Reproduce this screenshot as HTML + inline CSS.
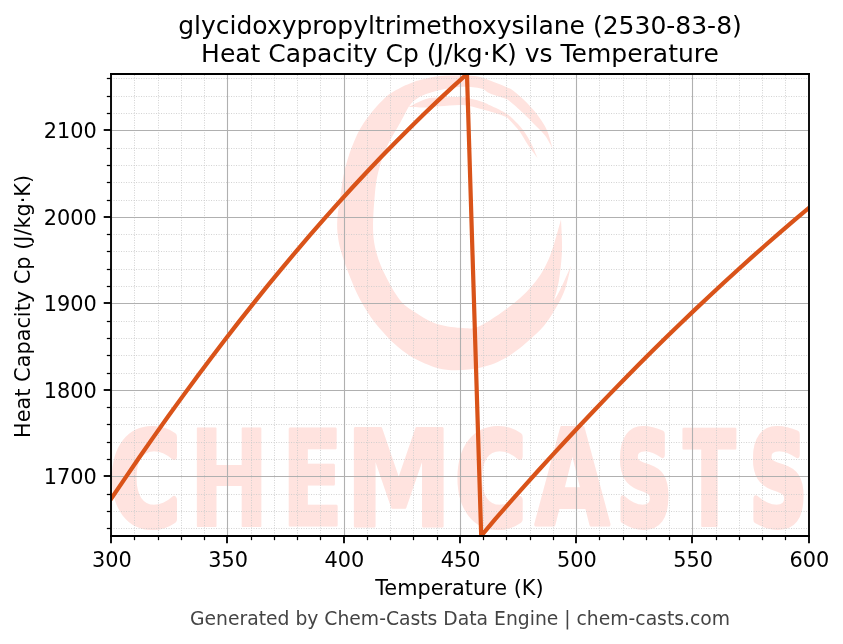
<!DOCTYPE html>
<html><head><meta charset="utf-8"><title>Heat Capacity Cp vs Temperature</title>
<style>html,body{margin:0;padding:0;background:#fff;overflow:hidden}svg{display:block}</style>
</head><body>
<svg width="843" height="644" viewBox="0 0 843 644">
<defs><clipPath id="ax"><rect x="111.1" y="74.0" width="697.5" height="461.9"/></clipPath></defs>
<rect width="843" height="644" fill="#fff"/>
<g id="watermark" clip-path="url(#ax)">
<g fill="#ffe3df">
<path d="M552.7,148.7 C551.9,146.1 549.6,137.3 548.0,133.0 C546.4,128.7 545.0,126.3 543.0,123.0 C541.0,119.7 538.5,116.2 536.0,113.0 C533.5,109.8 530.2,106.3 528.0,104.0 C525.8,101.7 525.5,101.2 523.0,99.0 C520.5,96.8 516.0,92.6 513.0,90.5 C510.0,88.4 508.8,88.2 505.0,86.5 C501.2,84.8 494.5,82.2 490.0,80.5 C485.5,78.8 482.5,77.3 478.0,76.5 C473.5,75.7 469.3,75.6 463.0,75.5 C456.7,75.4 447.2,75.2 440.0,76.0 C432.8,76.8 425.0,78.8 420.0,80.0 C415.0,81.2 413.3,82.2 410.0,83.5 C406.7,84.8 404.2,85.5 400.0,88.0 C395.8,90.5 390.5,92.5 384.5,98.2 C378.5,104.0 369.4,114.4 364.0,122.5 C358.6,130.6 355.2,138.6 352.0,146.7 C348.8,154.8 346.4,162.9 344.5,171.0 C342.6,179.1 341.7,186.8 340.5,195.0 C339.3,203.2 337.7,213.0 337.3,220.0 C336.9,227.0 337.3,231.4 338.0,237.0 C338.7,242.6 339.6,246.7 341.6,253.3 C343.6,259.9 346.7,268.8 349.8,276.6 C352.9,284.4 356.0,292.2 360.3,300.0 C364.6,307.8 369.2,315.4 375.4,323.2 C381.6,330.9 390.3,340.3 397.5,346.5 C404.7,352.7 410.3,356.5 418.5,360.4 C426.7,364.3 436.2,368.6 446.5,369.8 C456.8,371.0 469.8,370.0 480.0,367.8 C490.2,365.6 498.7,362.2 508.0,356.6 C517.3,351.0 529.0,340.5 536.0,334.0 C543.0,327.5 545.3,324.5 550.0,317.5 C554.7,310.5 560.5,300.6 564.0,292.0 C567.5,283.4 569.8,270.1 571.0,265.7 C569.2,269.8 562.8,284.2 560.0,290.0 C557.2,295.8 555.0,298.9 554.0,300.7 C554.8,297.2 557.7,288.4 559.0,280.0 C560.3,271.6 561.7,260.1 562.0,250.0 C562.3,239.9 561.2,224.7 561.0,219.6 C559.2,225.7 554.2,245.8 550.0,256.0 C545.8,266.2 542.1,273.1 536.0,281.0 C529.9,288.9 522.9,296.0 513.6,303.5 C504.3,311.0 488.9,321.8 480.0,325.9 C471.1,329.9 467.9,328.2 460.4,327.8 C452.9,327.4 442.6,325.9 434.8,323.2 C427.1,320.5 419.7,315.4 413.9,311.5 C408.1,307.6 404.6,305.7 399.9,299.9 C395.2,294.1 389.8,284.4 385.9,276.6 C382.0,268.8 378.7,261.1 376.6,253.3 C374.5,245.5 373.4,239.7 373.1,230.0 C372.8,220.3 373.9,204.8 374.8,195.0 C375.7,185.2 376.5,179.1 378.5,171.0 C380.5,162.9 383.4,154.8 387.0,146.7 C390.6,138.6 396.7,129.1 400.3,122.5 C403.9,115.9 407.1,109.6 408.5,107.0 C409.6,105.8 412.1,102.2 415.0,100.0 C417.9,97.8 421.0,95.8 426.0,94.0 C431.0,92.2 438.8,90.2 445.0,89.0 C451.2,87.8 457.0,86.9 463.0,86.8 C469.0,86.7 476.5,87.4 481.0,88.5 C485.5,89.6 486.0,91.8 490.0,93.5 C494.0,95.2 501.7,97.2 505.0,98.5 C508.3,99.8 507.0,99.1 510.0,101.5 C513.0,103.9 518.7,108.9 523.0,113.0 C527.3,117.1 532.3,122.2 536.0,126.0 C539.7,129.8 542.2,131.7 545.0,135.5 C547.8,139.3 551.4,146.5 552.7,148.7 Z"/>
<path d="M408.5,107.0 C411.4,105.7 420.8,100.6 426.0,99.0 C431.2,97.4 433.8,97.9 440.0,97.6 C446.2,97.3 456.2,96.6 463.0,97.3 C469.8,98.0 476.5,100.2 481.0,101.5 C485.5,102.8 486.0,103.4 490.0,105.3 C494.0,107.2 501.2,110.5 505.0,112.8 C508.8,115.1 510.0,116.1 513.0,119.0 C516.0,121.9 520.0,126.0 523.0,130.0 C526.0,134.0 528.6,138.3 531.0,143.0 C533.4,147.7 536.4,155.5 537.5,158.0 C535.9,155.8 530.9,149.3 528.0,145.0 C525.1,140.7 523.0,136.1 520.0,132.0 C517.0,127.9 512.5,123.1 510.0,120.5 C507.5,117.9 508.3,118.0 505.0,116.5 C501.7,115.0 494.0,112.8 490.0,111.5 C486.0,110.2 485.5,110.1 481.0,109.0 C476.5,107.9 469.8,105.5 463.0,105.0 C456.2,104.5 446.2,105.9 440.0,106.3 C433.8,106.7 431.2,107.4 426.0,107.5 C420.8,107.6 411.4,107.1 408.5,107.0 Z"/>
<text aria-label="CHEMCASTS" style="font-family:'DejaVu Sans','Liberation Sans',sans-serif;font-weight:bold;stroke:#ffe3df;stroke-linejoin:round"><tspan x="110.26" y="524.01" textLength="69.82" lengthAdjust="spacingAndGlyphs" style="font-size:126.13px;stroke-width:8.0">C</tspan><tspan x="188.65" y="526.20" textLength="80.70" lengthAdjust="spacingAndGlyphs" style="font-size:133.06px;stroke-width:2.0">H</tspan><tspan x="281.51" y="525.00" textLength="61.71" lengthAdjust="spacingAndGlyphs" style="font-size:131.00px;stroke-width:3.0">E</tspan><tspan x="345.13" y="525.50" textLength="106.99" lengthAdjust="spacingAndGlyphs" style="font-size:133.33px;stroke-width:3.0">M</tspan><tspan x="455.65" y="524.01" textLength="69.94" lengthAdjust="spacingAndGlyphs" style="font-size:126.13px;stroke-width:8.0">C</tspan><tspan x="535.13" y="524.50" textLength="74.24" lengthAdjust="spacingAndGlyphs" style="font-size:131.55px;stroke-width:4.0">A</tspan><tspan x="616.96" y="523.92" textLength="54.59" lengthAdjust="spacingAndGlyphs" style="font-size:126.00px;stroke-width:8.0">S</tspan><tspan x="683.02" y="525.50" textLength="52.90" lengthAdjust="spacingAndGlyphs" style="font-size:131.41px;stroke-width:3.0">T</tspan><tspan x="749.71" y="523.92" textLength="57.10" lengthAdjust="spacingAndGlyphs" style="font-size:126.00px;stroke-width:8.0">S</tspan></text>
</g></g>
<g stroke="#cccccc" stroke-width="0.94" stroke-dasharray="0.94 1.56" fill="none" clip-path="url(#ax)">
<path d="M134.5 535.9V74.0"/>
<path d="M158.5 535.9V74.0"/>
<path d="M181.5 535.9V74.0"/>
<path d="M204.5 535.9V74.0"/>
<path d="M251.5 535.9V74.0"/>
<path d="M274.5 535.9V74.0"/>
<path d="M297.5 535.9V74.0"/>
<path d="M320.5 535.9V74.0"/>
<path d="M367.5 535.9V74.0"/>
<path d="M390.5 535.9V74.0"/>
<path d="M413.5 535.9V74.0"/>
<path d="M437.5 535.9V74.0"/>
<path d="M483.5 535.9V74.0"/>
<path d="M506.5 535.9V74.0"/>
<path d="M530.5 535.9V74.0"/>
<path d="M553.5 535.9V74.0"/>
<path d="M599.5 535.9V74.0"/>
<path d="M623.5 535.9V74.0"/>
<path d="M646.5 535.9V74.0"/>
<path d="M669.5 535.9V74.0"/>
<path d="M716.5 535.9V74.0"/>
<path d="M739.5 535.9V74.0"/>
<path d="M762.5 535.9V74.0"/>
<path d="M785.5 535.9V74.0"/>
<path d="M111.1 528.5H808.6"/>
<path d="M111.1 511.5H808.6"/>
<path d="M111.1 494.5H808.6"/>
<path d="M111.1 459.5H808.6"/>
<path d="M111.1 442.5H808.6"/>
<path d="M111.1 424.5H808.6"/>
<path d="M111.1 407.5H808.6"/>
<path d="M111.1 373.5H808.6"/>
<path d="M111.1 355.5H808.6"/>
<path d="M111.1 338.5H808.6"/>
<path d="M111.1 321.5H808.6"/>
<path d="M111.1 286.5H808.6"/>
<path d="M111.1 269.5H808.6"/>
<path d="M111.1 251.5H808.6"/>
<path d="M111.1 234.5H808.6"/>
<path d="M111.1 200.5H808.6"/>
<path d="M111.1 182.5H808.6"/>
<path d="M111.1 165.5H808.6"/>
<path d="M111.1 148.5H808.6"/>
<path d="M111.1 113.5H808.6"/>
<path d="M111.1 96.5H808.6"/>
<path d="M111.1 78.5H808.6"/>
</g>
<g stroke="#b0b0b0" stroke-width="1.1" fill="none" clip-path="url(#ax)">
<path d="M111.5 535.9V74.0"/>
<path d="M227.5 535.9V74.0"/>
<path d="M344.5 535.9V74.0"/>
<path d="M460.5 535.9V74.0"/>
<path d="M576.5 535.9V74.0"/>
<path d="M692.5 535.9V74.0"/>
<path d="M809.5 535.9V74.0"/>
<path d="M111.1 476.5H808.6"/>
<path d="M111.1 390.5H808.6"/>
<path d="M111.1 303.5H808.6"/>
<path d="M111.1 217.5H808.6"/>
<path d="M111.1 130.5H808.6"/>
</g>
<polyline points="111.10,498.90 125.33,477.81 139.57,457.06 153.80,436.66 168.04,416.59 182.27,396.86 196.51,377.48 210.74,358.44 224.98,339.73 239.21,321.37 253.45,303.35 267.68,285.68 281.92,268.34 296.15,251.34 310.39,234.69 324.62,218.37 338.86,202.40 353.09,186.77 367.32,171.48 381.56,156.53 395.79,141.92 410.03,127.65 424.26,113.73 438.50,100.14 452.73,86.90 466.97,74.00 481.20,535.90 495.44,518.87 509.67,502.64 523.91,486.60 538.14,470.77 552.38,455.14 566.61,439.71 580.84,424.48 595.08,409.45 609.31,394.62 623.55,380.00 637.78,365.57 652.02,351.34 666.25,337.32 680.49,323.49 694.72,309.87 708.96,296.45 723.19,283.22 737.43,270.20 751.66,257.38 765.90,244.76 780.13,232.34 794.37,220.13 808.60,208.11" fill="none" stroke="#D95319" stroke-width="4.2" stroke-linejoin="round" stroke-linecap="square" clip-path="url(#ax)"/>
<g stroke="#000" stroke-width="1.86" stroke-linecap="square" fill="none"><path d="M111.0 536.0V74.0"/><path d="M809.0 536.0V74.0"/><path d="M111.0 536.0H809.0"/><path d="M111.0 74.0H809.0"/></g>
<g stroke="#000" fill="none">
<path d="M111.0 536.0v7.29" stroke-width="1.86"/>
<path d="M227.0 536.0v7.29" stroke-width="1.86"/>
<path d="M344.0 536.0v7.29" stroke-width="1.86"/>
<path d="M460.0 536.0v7.29" stroke-width="1.86"/>
<path d="M576.0 536.0v7.29" stroke-width="1.86"/>
<path d="M692.0 536.0v7.29" stroke-width="1.86"/>
<path d="M809.0 536.0v7.29" stroke-width="1.86"/>
<path d="M134.5 536.0v4.17" stroke-width="1.25"/>
<path d="M158.5 536.0v4.17" stroke-width="1.25"/>
<path d="M181.5 536.0v4.17" stroke-width="1.25"/>
<path d="M204.5 536.0v4.17" stroke-width="1.25"/>
<path d="M251.5 536.0v4.17" stroke-width="1.25"/>
<path d="M274.5 536.0v4.17" stroke-width="1.25"/>
<path d="M297.5 536.0v4.17" stroke-width="1.25"/>
<path d="M320.5 536.0v4.17" stroke-width="1.25"/>
<path d="M367.5 536.0v4.17" stroke-width="1.25"/>
<path d="M390.5 536.0v4.17" stroke-width="1.25"/>
<path d="M413.5 536.0v4.17" stroke-width="1.25"/>
<path d="M437.5 536.0v4.17" stroke-width="1.25"/>
<path d="M483.5 536.0v4.17" stroke-width="1.25"/>
<path d="M506.5 536.0v4.17" stroke-width="1.25"/>
<path d="M530.5 536.0v4.17" stroke-width="1.25"/>
<path d="M553.5 536.0v4.17" stroke-width="1.25"/>
<path d="M599.5 536.0v4.17" stroke-width="1.25"/>
<path d="M623.5 536.0v4.17" stroke-width="1.25"/>
<path d="M646.5 536.0v4.17" stroke-width="1.25"/>
<path d="M669.5 536.0v4.17" stroke-width="1.25"/>
<path d="M716.5 536.0v4.17" stroke-width="1.25"/>
<path d="M739.5 536.0v4.17" stroke-width="1.25"/>
<path d="M762.5 536.0v4.17" stroke-width="1.25"/>
<path d="M785.5 536.0v4.17" stroke-width="1.25"/>
<path d="M111.0 476.0h-7.29" stroke-width="1.86"/>
<path d="M111.0 390.0h-7.29" stroke-width="1.86"/>
<path d="M111.0 303.0h-7.29" stroke-width="1.86"/>
<path d="M111.0 217.0h-7.29" stroke-width="1.86"/>
<path d="M111.0 130.0h-7.29" stroke-width="1.86"/>
<path d="M111.0 528.5h-4.17" stroke-width="1.25"/>
<path d="M111.0 511.5h-4.17" stroke-width="1.25"/>
<path d="M111.0 494.5h-4.17" stroke-width="1.25"/>
<path d="M111.0 459.5h-4.17" stroke-width="1.25"/>
<path d="M111.0 442.5h-4.17" stroke-width="1.25"/>
<path d="M111.0 424.5h-4.17" stroke-width="1.25"/>
<path d="M111.0 407.5h-4.17" stroke-width="1.25"/>
<path d="M111.0 373.5h-4.17" stroke-width="1.25"/>
<path d="M111.0 355.5h-4.17" stroke-width="1.25"/>
<path d="M111.0 338.5h-4.17" stroke-width="1.25"/>
<path d="M111.0 321.5h-4.17" stroke-width="1.25"/>
<path d="M111.0 286.5h-4.17" stroke-width="1.25"/>
<path d="M111.0 269.5h-4.17" stroke-width="1.25"/>
<path d="M111.0 251.5h-4.17" stroke-width="1.25"/>
<path d="M111.0 234.5h-4.17" stroke-width="1.25"/>
<path d="M111.0 200.5h-4.17" stroke-width="1.25"/>
<path d="M111.0 182.5h-4.17" stroke-width="1.25"/>
<path d="M111.0 165.5h-4.17" stroke-width="1.25"/>
<path d="M111.0 148.5h-4.17" stroke-width="1.25"/>
<path d="M111.0 113.5h-4.17" stroke-width="1.25"/>
<path d="M111.0 96.5h-4.17" stroke-width="1.25"/>
<path d="M111.0 78.5h-4.17" stroke-width="1.25"/>
</g>
<g>
<text x="111.90" y="567.21" style="font-family:'DejaVu Sans','Liberation Sans',sans-serif;font-size:20.833px;text-anchor:middle;fill:#000">300</text>
<text x="228.15" y="567.21" style="font-family:'DejaVu Sans','Liberation Sans',sans-serif;font-size:20.833px;text-anchor:middle;fill:#000">350</text>
<text x="344.40" y="567.21" style="font-family:'DejaVu Sans','Liberation Sans',sans-serif;font-size:20.833px;text-anchor:middle;fill:#000">400</text>
<text x="460.65" y="567.21" style="font-family:'DejaVu Sans','Liberation Sans',sans-serif;font-size:20.833px;text-anchor:middle;fill:#000">450</text>
<text x="576.90" y="567.21" style="font-family:'DejaVu Sans','Liberation Sans',sans-serif;font-size:20.833px;text-anchor:middle;fill:#000">500</text>
<text x="693.15" y="567.21" style="font-family:'DejaVu Sans','Liberation Sans',sans-serif;font-size:20.833px;text-anchor:middle;fill:#000">550</text>
<text x="809.40" y="567.21" style="font-family:'DejaVu Sans','Liberation Sans',sans-serif;font-size:20.833px;text-anchor:middle;fill:#000">600</text>
<text x="96.82" y="484.22" style="font-family:'DejaVu Sans','Liberation Sans',sans-serif;font-size:20.833px;text-anchor:end;fill:#000">1700</text>
<text x="96.82" y="397.72" style="font-family:'DejaVu Sans','Liberation Sans',sans-serif;font-size:20.833px;text-anchor:end;fill:#000">1800</text>
<text x="96.82" y="311.22" style="font-family:'DejaVu Sans','Liberation Sans',sans-serif;font-size:20.833px;text-anchor:end;fill:#000">1900</text>
<text x="96.82" y="224.72" style="font-family:'DejaVu Sans','Liberation Sans',sans-serif;font-size:20.833px;text-anchor:end;fill:#000">2000</text>
<text x="96.82" y="138.22" style="font-family:'DejaVu Sans','Liberation Sans',sans-serif;font-size:20.833px;text-anchor:end;fill:#000">2100</text>
<text x="459.40" y="594.71" style="font-family:'DejaVu Sans','Liberation Sans',sans-serif;font-size:20.833px;text-anchor:middle;fill:#000">Temperature (K)</text>
<text x="29.73" y="306.40" style="font-family:'DejaVu Sans','Liberation Sans',sans-serif;font-size:20.833px;text-anchor:middle;fill:#000" transform="rotate(-90 29.73 306.40)">Heat Capacity Cp (J/kg·K)</text>
<text x="178.20" y="34.31" style="font-family:'DejaVu Sans','Liberation Sans',sans-serif;font-size:25px;text-anchor:start;fill:#000">glycidoxypropyltrimethoxysilane (2530-83-8)</text>
<text x="201.11" y="62.30" style="font-family:'DejaVu Sans','Liberation Sans',sans-serif;font-size:25px;text-anchor:start;fill:#000">Heat Capacity Cp (J/kg·K) vs Temperature</text>
<text x="460.00" y="624.50" style="font-family:'DejaVu Sans','Liberation Sans',sans-serif;font-size:18.75px;text-anchor:middle;fill:#444444">Generated by Chem-Casts Data Engine | chem-casts.com</text>
</g>
</svg>
</body></html>
